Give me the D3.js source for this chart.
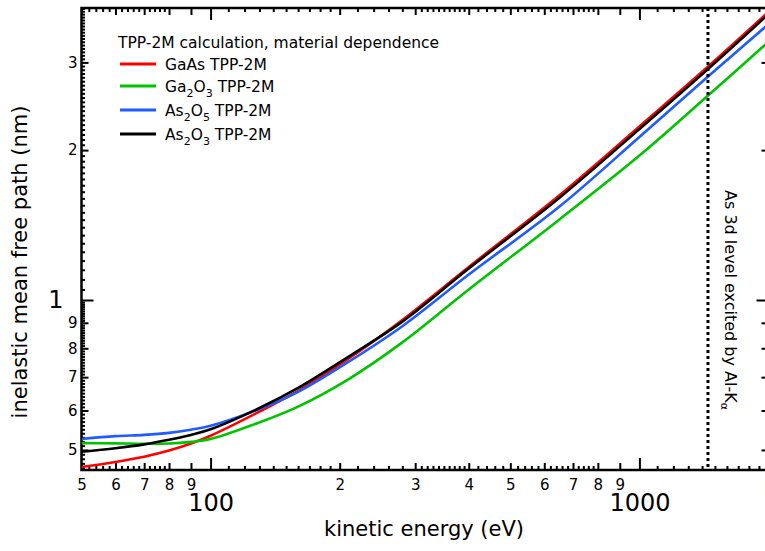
<!DOCTYPE html>
<html>
<head>
<meta charset="utf-8">
<script src="https://cdn.jsdelivr.net/npm/d3@7"></script>
<style>
  html, body { margin: 0; padding: 0; background: #fff; overflow: hidden; }
  svg { display: block; font-family: "DejaVu Sans", sans-serif; }
</style>
</head>
<body>
<svg id="chart" width="765" height="551"></svg>
<script>
// Kinetic energies (eV) at which the IMFP curves are sampled
const energy    = [50, 60, 70, 80, 90, 100, 130, 160, 210, 280, 400, 650, 1000, 1450, 2000];
// Inelastic mean free paths (nm), TPP-2M, per material
const imfpGaAs  = [0.462, 0.473, 0.4846, 0.4985, 0.515, 0.534, 0.597, 0.657, 0.763, 0.912, 1.165, 1.621, 2.23, 2.95, 3.79];
const imfpGa2O3 = [0.516, 0.5155, 0.5145, 0.515, 0.519, 0.526, 0.568, 0.611, 0.694, 0.822, 1.05, 1.45, 1.95, 2.58, 3.30];
const imfpAs2O5 = [0.526, 0.533, 0.536, 0.541, 0.549, 0.559, 0.604, 0.654, 0.752, 0.886, 1.125, 1.539, 2.125, 2.818, 3.58];
const imfpAs2O3 = [0.496, 0.504, 0.513, 0.524, 0.536, 0.550, 0.607, 0.666, 0.770, 0.905, 1.157, 1.603, 2.205, 2.917, 3.75];

const seriesColors = ["#ff0000", "#00c400", "#1f5bff", "#000000"];
const legendTitle = "TPP-2M calculation, material dependence";
// label pieces: [text, isSubscript]
const legendLabels = [
  [["GaAs TPP-2M", 0]],
  [["Ga", 0], ["2", 1], ["O", 0], ["3", 1], [" TPP-2M", 0]],
  [["As", 0], ["2", 1], ["O", 0], ["5", 1], [" TPP-2M", 0]],
  [["As", 0], ["2", 1], ["O", 0], ["3", 1], [" TPP-2M", 0]]
];

// Tick values
const xMajorTicks  = [100, 1000];
const xMediumTicks = [50, 60, 70, 80, 90, 200, 300, 400, 500, 600, 700, 800, 900, 2000];
const yMajorTicks  = [1];
const yMediumTicks = [0.5, 0.6, 0.7, 0.8, 0.9, 2, 3];

// As 3d photoelectron kinetic energy with Al K-alpha excitation
const alKaKinetic = 1445;
const annotation = "As 3d level excited by Al-K";

const xTitle = "kinetic energy (eV)";
const yTitle = "inelastic mean free path (nm)";

// ---------------------------------------------------------------
const plot = { left: 81.5, right: 768.5, top: 8, bottom: 470 };
const svg = d3.select("#chart");

const x = d3.scaleLog().domain([50, 2000]).range([plot.left, plot.right]);
const y = d3.scaleLog().domain([0.4557, 3.858]).range([plot.bottom, plot.top]);

// minor tick positions
const notIn = arr => v => !arr.some(a => Math.abs(a - v) < 1e-9);
const xMinorTicks = [].concat(
  d3.range(52, 80, 2),
  d3.range(110, 200, 10),
  d3.range(220, 300, 20),
  d3.range(310, 400, 10),
  d3.range(420, 800, 20),
  d3.range(1100, 2000, 100)
).filter(notIn(xMediumTicks.concat(xMajorTicks)));
const yMinorTicks = [].concat(
  d3.range(46, 100, 1).map(v => v / 100),
  d3.range(21, 78, 1).map(v => v / 20)
).filter(notIn(yMediumTicks.concat(yMajorTicks)));

const digit = d => {
  const p = Math.pow(10, Math.floor(Math.log10(d) + 1e-9));
  return String(Math.round(d / p));
};

function styleAxis(g, width) {
  g.select(".domain").remove();
  g.selectAll(".tick line").attr("stroke", "#000").attr("stroke-width", width);
  g.selectAll(".tick text").attr("fill", "#000").attr("font-family", "DejaVu Sans, sans-serif");
}

// bottom axis
const gb = svg.append("g").attr("transform", `translate(0,${plot.bottom})`);
gb.append("g").call(d3.axisBottom(x).tickValues(xMinorTicks).tickSize(-4).tickFormat("")).call(g => styleAxis(g, 2));
gb.append("g").call(d3.axisBottom(x).tickValues(xMediumTicks).tickSize(-7).tickPadding(9).tickFormat(digit))
  .call(g => { styleAxis(g, 2); g.selectAll(".tick text").attr("font-size", 15); });
gb.append("g").call(d3.axisBottom(x).tickValues(xMajorTicks).tickSize(-12).tickPadding(24).tickFormat(d3.format("d")))
  .call(g => { styleAxis(g, 2); g.selectAll(".tick text").attr("font-size", 24); });

// top axis (ticks only)
const gt = svg.append("g").attr("transform", `translate(0,${plot.top})`);
gt.append("g").call(d3.axisTop(x).tickValues(xMinorTicks).tickSize(-4).tickFormat("")).call(g => styleAxis(g, 2));
gt.append("g").call(d3.axisTop(x).tickValues(xMediumTicks).tickSize(-7).tickFormat("")).call(g => styleAxis(g, 2));
gt.append("g").call(d3.axisTop(x).tickValues(xMajorTicks).tickSize(-12).tickFormat("")).call(g => styleAxis(g, 2));

// left axis
const yLabel = d => d < 1 ? String(Math.round(d * 10)) : String(d);
const gl = svg.append("g").attr("transform", `translate(${plot.left},0)`);
gl.append("g").call(d3.axisLeft(y).tickValues(yMinorTicks).tickSize(-3.5).tickFormat("")).call(g => styleAxis(g, 2));
gl.append("g").call(d3.axisLeft(y).tickValues(yMediumTicks).tickSize(-7).tickPadding(4).tickFormat(yLabel))
  .call(g => { styleAxis(g, 2); g.selectAll(".tick text").attr("font-size", 15); });
gl.append("g").call(d3.axisLeft(y).tickValues(yMajorTicks).tickSize(-12).tickPadding(18).tickFormat(yLabel))
  .call(g => { styleAxis(g, 2); g.selectAll(".tick text").attr("font-size", 24); });

// right axis (ticks only)
const gr = svg.append("g").attr("transform", `translate(${plot.right},0)`);
gr.append("g").call(d3.axisRight(y).tickValues(yMediumTicks).tickSize(-7).tickFormat("")).call(g => styleAxis(g, 2));
gr.append("g").call(d3.axisRight(y).tickValues(yMajorTicks).tickSize(-12).tickFormat("")).call(g => styleAxis(g, 2));

// frame
svg.append("rect")
  .attr("x", plot.left).attr("y", plot.top)
  .attr("width", plot.right - plot.left).attr("height", plot.bottom - plot.top)
  .attr("fill", "none").attr("stroke", "#000").attr("stroke-width", 2.5);

// curves
svg.append("clipPath").attr("id", "plotClip").append("rect")
  .attr("x", plot.left).attr("y", plot.top)
  .attr("width", plot.right - plot.left).attr("height", plot.bottom - plot.top);

const series = [imfpGaAs, imfpGa2O3, imfpAs2O5, imfpAs2O3];
const line = d3.line()
  .x((d, i) => x(energy[i]))
  .y(d => y(d))
  .curve(d3.curveCatmullRom.alpha(0.5));

svg.append("g").attr("clip-path", "url(#plotClip)")
  .selectAll("path").data(series).join("path")
  .attr("d", d => line(d))
  .attr("fill", "none")
  .attr("stroke", (d, i) => seriesColors[i])
  .attr("stroke-width", 2.6)
  .attr("stroke-linejoin", "round");

// excitation marker
svg.append("line")
  .attr("x1", x(alKaKinetic)).attr("x2", x(alKaKinetic))
  .attr("y1", plot.top).attr("y2", plot.bottom)
  .attr("stroke", "#000").attr("stroke-width", 3)
  .attr("stroke-dasharray", "3,3");

const ann = svg.append("text")
  .attr("transform", `translate(725,300) rotate(90)`)
  .attr("text-anchor", "middle")
  .attr("font-size", 16)
  .attr("fill", "#000");
ann.append("tspan").text(annotation);
ann.append("tspan").attr("dy", 4).attr("font-size", 11).text("\u03b1");

// legend
svg.append("text").attr("x", 118).attr("y", 48)
  .attr("font-size", 15.5).attr("fill", "#000").text(legendTitle);
const legendY = [64, 86, 110, 134];
legendLabels.forEach((parts, i) => {
  svg.append("line")
    .attr("x1", 120).attr("x2", 156)
    .attr("y1", legendY[i]).attr("y2", legendY[i])
    .attr("stroke", seriesColors[i]).attr("stroke-width", 3);
  const t = svg.append("text").attr("x", 165).attr("y", legendY[i] + 6)
    .attr("font-size", 15.5).attr("fill", "#000");
  let sub = false;
  parts.forEach(([s, isSub]) => {
    const ts = t.append("tspan").text(s);
    if (isSub && !sub) ts.attr("dy", 5).attr("font-size", 11);
    else if (isSub) ts.attr("font-size", 11);
    else if (!isSub && sub) ts.attr("dy", -5);
    sub = !!isSub;
  });
});

// axis titles
svg.append("text").attr("x", 424).attr("y", 536)
  .attr("text-anchor", "middle").attr("font-size", 21).attr("fill", "#000").text(xTitle);
svg.append("text").attr("transform", "translate(27,262) rotate(-90)")
  .attr("text-anchor", "middle").attr("font-size", 21).attr("fill", "#000").text(yTitle);
</script>
</body>
</html>
